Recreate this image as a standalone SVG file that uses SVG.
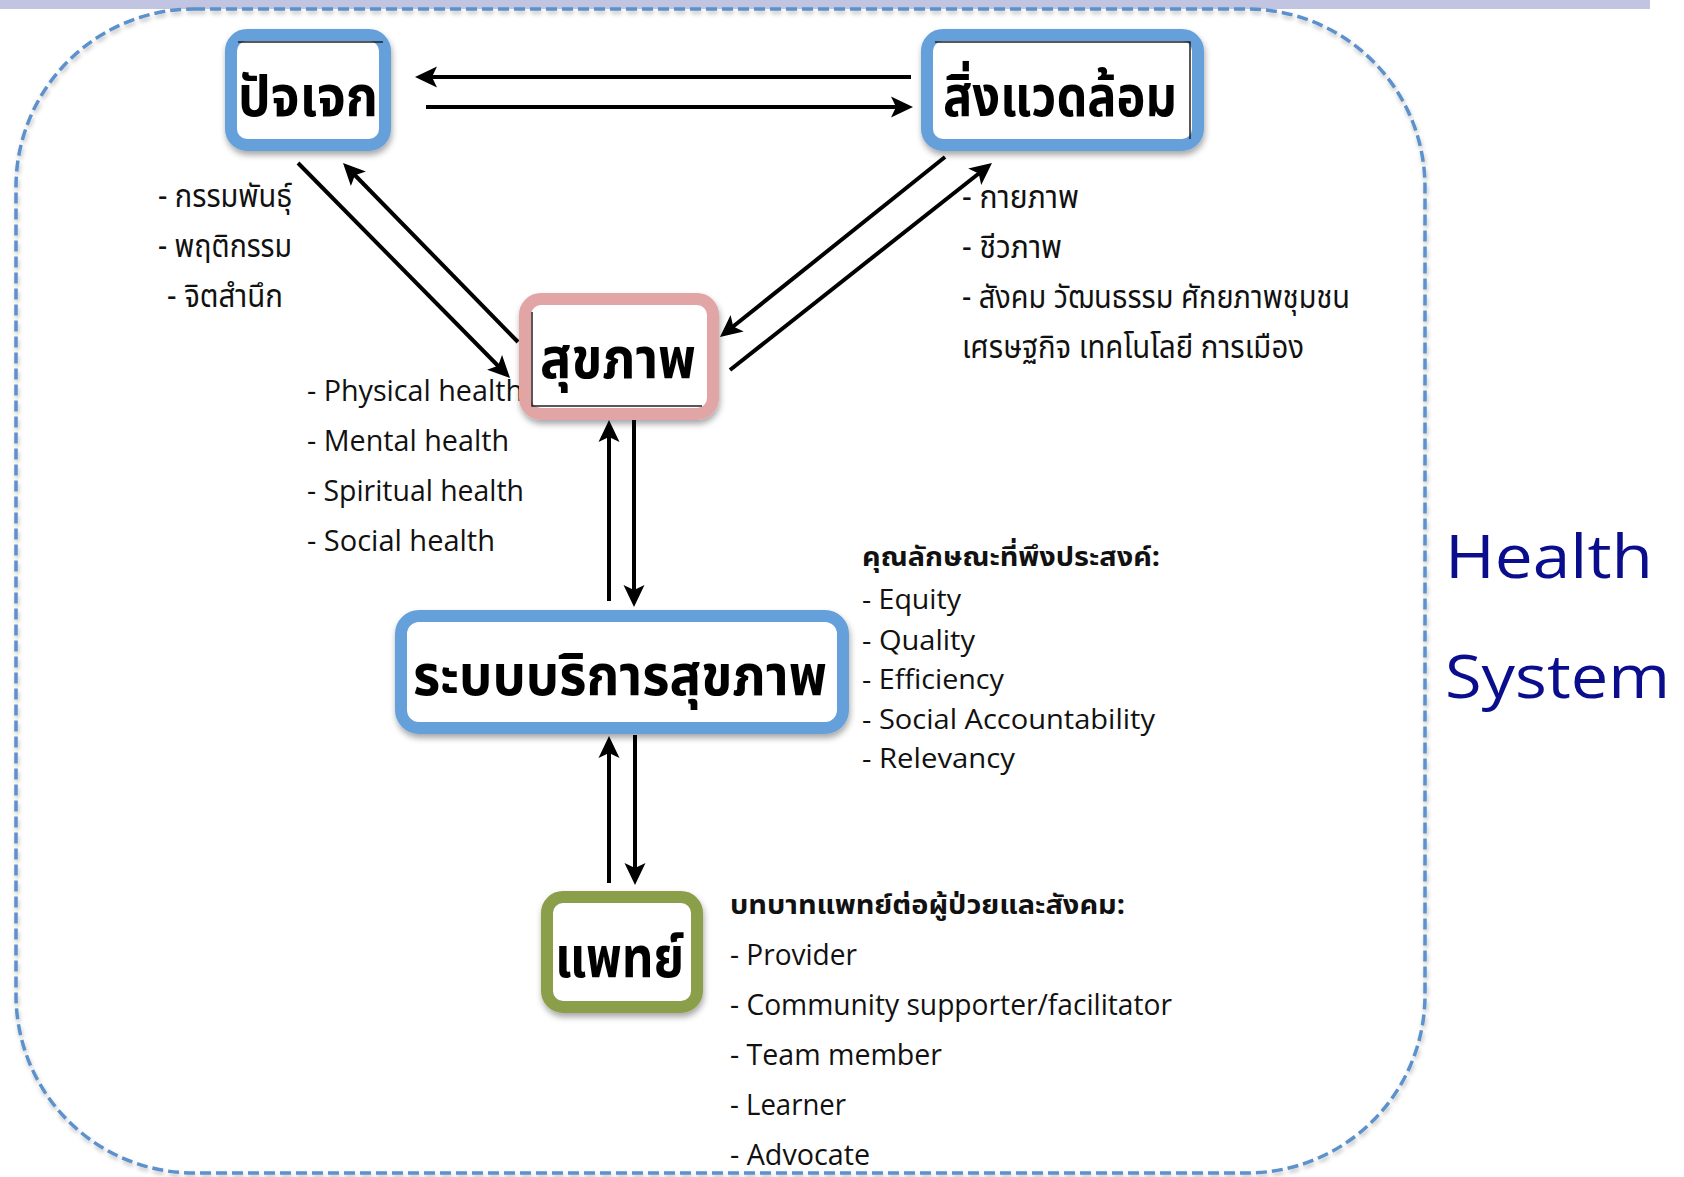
<svg xmlns="http://www.w3.org/2000/svg" width="1684" height="1177" viewBox="0 0 1684 1177">
<style>
.th{font-family:"Noto Sans Thai","Noto Sans Thai UI","Loma","Garuda","Norasi","DejaVu Sans",sans-serif;fill:#111}
.nodet{font-weight:700;font-size:56px;text-anchor:middle;fill:#000}
.lst{font-size:32px}
.hdr{font-size:27px;font-weight:700}
.en{font-family:"Open Sans","Noto Sans",sans-serif;font-size:30px;fill:#111}
.en2{font-family:"Open Sans","Noto Sans",sans-serif;font-size:28px;fill:#111}
.big{font-family:"Open Sans","Noto Sans",sans-serif;font-size:60px;fill:#0b0e8c}
.conn{stroke:#000;stroke-width:4;fill:none;marker-end:url(#ah)}
.inner{stroke:#222;stroke-width:1.5;fill:none}
</style>
<defs>
<marker id="ah" viewBox="0 -11 23 22" refX="8" refY="0" markerWidth="23" markerHeight="22" markerUnits="userSpaceOnUse" orient="auto">
<path d="M22,0 L0,-10.5 L5,0 L0,10.5 Z" fill="#000"/>
</marker>
<filter id="sh" x="-20%" y="-20%" width="140%" height="150%">
<feDropShadow dx="1" dy="4" stdDeviation="3" flood-color="#000" flood-opacity="0.35"/>
</filter>
<filter id="sh2" x="-5%" y="-5%" width="110%" height="110%">
<feDropShadow dx="1" dy="3" stdDeviation="2" flood-color="#000" flood-opacity="0.25"/>
</filter>
</defs>
<rect x="0" y="0" width="1684" height="1177" fill="#fff"/>
<rect x="0" y="0" width="1650" height="9" fill="#c2c5e1"/>
<rect id="frame" x="16" y="9" width="1409" height="1164" rx="178" fill="none" stroke="#5b91cc" stroke-width="3.5" stroke-dasharray="11 5" filter="url(#sh2)"/>

<g id="lists">
<text class="th lst" x="158" y="207" textLength="134" lengthAdjust="spacingAndGlyphs">- กรรมพันธุ์</text>
<text class="th lst" x="158" y="257" textLength="134" lengthAdjust="spacingAndGlyphs">- พฤติกรรม</text>
<text class="th lst" x="167" y="307" textLength="116" lengthAdjust="spacingAndGlyphs">- จิตสำนึก</text>

<text class="th lst" x="962" y="208" textLength="117" lengthAdjust="spacingAndGlyphs">- กายภาพ</text>
<text class="th lst" x="962" y="258" textLength="100" lengthAdjust="spacingAndGlyphs">- ชีวภาพ</text>
<text class="th lst" x="962" y="308" textLength="388" lengthAdjust="spacingAndGlyphs">- สังคม วัฒนธรรม ศักยภาพชุมชน</text>
<text class="th lst" x="962" y="358" textLength="342" lengthAdjust="spacingAndGlyphs">เศรษฐกิจ เทคโนโลยี การเมือง</text>

<text class="en" x="307" y="401" textLength="216" lengthAdjust="spacingAndGlyphs">- Physical health</text>
<text class="en" x="307" y="451" textLength="202" lengthAdjust="spacingAndGlyphs">- Mental health</text>
<text class="en" x="307" y="501" textLength="217" lengthAdjust="spacingAndGlyphs">- Spiritual health</text>
<text class="en" x="307" y="551" textLength="188" lengthAdjust="spacingAndGlyphs">- Social health</text>

<text class="th hdr" x="862" y="566" textLength="298" lengthAdjust="spacingAndGlyphs">คุณลักษณะที่พึงประสงค์:</text>
<text class="en2" x="862" y="609" textLength="99" lengthAdjust="spacingAndGlyphs">- Equity</text>
<text class="en2" x="862" y="650" textLength="113" lengthAdjust="spacingAndGlyphs">- Quality</text>
<text class="en2" x="862" y="689" textLength="142" lengthAdjust="spacingAndGlyphs">- Efficiency</text>
<text class="en2" x="862" y="729" textLength="293" lengthAdjust="spacingAndGlyphs">- Social Accountability</text>
<text class="en2" x="862" y="768" textLength="153" lengthAdjust="spacingAndGlyphs">- Relevancy</text>

<text class="th hdr" x="730" y="914" textLength="395" lengthAdjust="spacingAndGlyphs">บทบาทแพทย์ต่อผู้ป่วยและสังคม:</text>
<text class="en" x="730" y="965" textLength="127" lengthAdjust="spacingAndGlyphs">- Provider</text>
<text class="en" x="730" y="1015" textLength="442" lengthAdjust="spacingAndGlyphs">- Community supporter/facilitator</text>
<text class="en" x="730" y="1065" textLength="212" lengthAdjust="spacingAndGlyphs">- Team member</text>
<text class="en" x="730" y="1115" textLength="116" lengthAdjust="spacingAndGlyphs">- Learner</text>
<text class="en" x="730" y="1165" textLength="140" lengthAdjust="spacingAndGlyphs">- Advocate</text>

<text class="big" x="1445" y="578" textLength="208" lengthAdjust="spacingAndGlyphs">Health</text>
<text class="big" x="1445" y="698" textLength="225" lengthAdjust="spacingAndGlyphs">System</text>
</g>

<g id="connectors">
<line class="conn" x1="911" y1="77" x2="429" y2="77"/>
<line class="conn" x1="426" y1="107" x2="899" y2="107"/>
<line class="conn" x1="298" y1="163" x2="500.2" y2="368"/>
<line class="conn" x1="518" y1="342" x2="352.8" y2="173"/>
<line class="conn" x1="945" y1="157" x2="730.9" y2="328.3"/>
<line class="conn" x1="730" y1="370" x2="981" y2="171.7"/>
<line class="conn" x1="609" y1="601" x2="609" y2="434"/>
<line class="conn" x1="634" y1="420" x2="634" y2="593"/>
<line class="conn" x1="609" y1="883" x2="609" y2="750"/>
<line class="conn" x1="635" y1="735" x2="635" y2="871"/>
</g>

<g id="node-individual">
<rect x="231" y="35" width="154" height="110" rx="16" fill="#fff" stroke="#65a0db" stroke-width="12" filter="url(#sh)"/>
<line class="inner" x1="238" y1="42" x2="383" y2="42"/>
<text class="th nodet" x="308" y="116" textLength="140" lengthAdjust="spacingAndGlyphs">ปัจเจก</text>
</g>

<g id="node-environment">
<rect x="927" y="35" width="271" height="110" rx="16" fill="#fff" stroke="#65a0db" stroke-width="12" filter="url(#sh)"/>
<path class="inner" d="M935,42 H1190 V139"/>
<text class="th nodet" x="1060" y="116" textLength="234" lengthAdjust="spacingAndGlyphs">สิ่งแวดล้อม</text>
</g>

<g id="node-health">
<rect x="525" y="299" width="188" height="115" rx="16" fill="#fff" stroke="#e0a5a4" stroke-width="12" filter="url(#sh)"/>
<path class="inner" d="M532,312 V406 H702"/>
<text class="th nodet" x="618" y="378" textLength="156" lengthAdjust="spacingAndGlyphs">สุขภาพ</text>
</g>

<g id="node-service">
<rect x="401" y="616" width="442" height="112" rx="18" fill="#fff" stroke="#65a0db" stroke-width="12" filter="url(#sh)"/>
<text class="th nodet" x="620" y="695" textLength="414" lengthAdjust="spacingAndGlyphs">ระบบบริการสุขภาพ</text>
</g>

<g id="node-doctor">
<rect x="547" y="897" width="150" height="110" rx="16" fill="#fff" stroke="#8b9f4c" stroke-width="12" filter="url(#sh)"/>
<text class="th nodet" x="619.5" y="977" textLength="129" lengthAdjust="spacingAndGlyphs">แพทย์</text>
</g>
</svg>
